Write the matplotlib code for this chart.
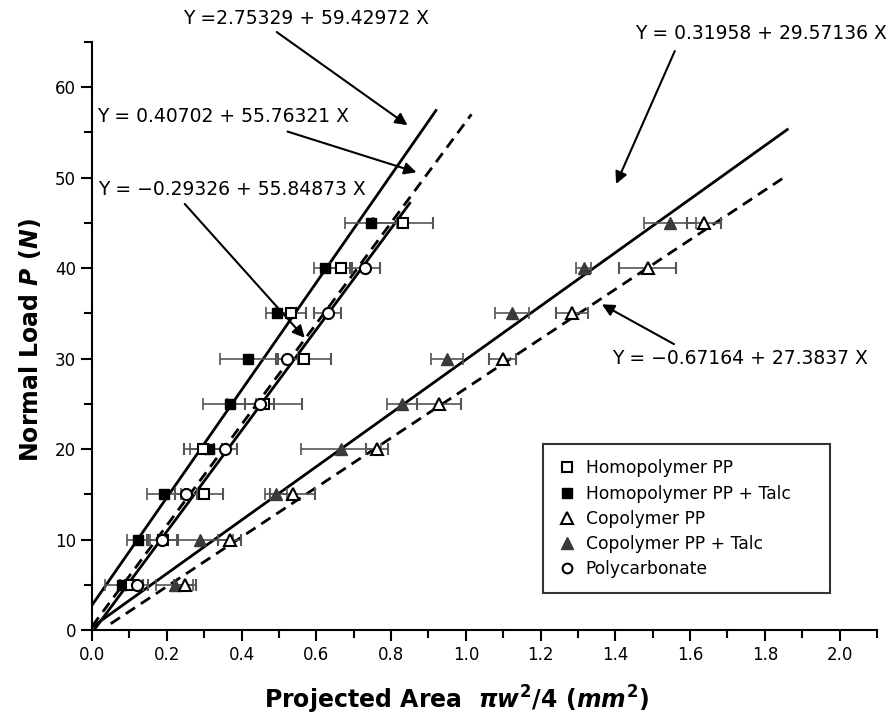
import numpy as np
import matplotlib
matplotlib.use("Agg")
import matplotlib.pyplot as plt
from matplotlib.lines import Line2D

# loads (N) for each series
loads = [5, 10, 15, 20, 25, 30, 35, 40, 45]
loads_pc = [5, 10, 15, 20, 25, 30, 35, 40]

# projected areas (mm^2)
homo_pp = [0.105, 0.19, 0.30, 0.297, 0.461, 0.568, 0.532, 0.666, 0.832]
homo_pp_err = [0.03, 0.04, 0.05, 0.05, 0.10, 0.07, 0.04, 0.03, 0.08]
homo_talc = [0.079, 0.124, 0.192, 0.312, 0.368, 0.418, 0.496, 0.623, 0.747]
homo_talc_err = [0.045, 0.03, 0.046, 0.05, 0.07, 0.077, 0.03, 0.03, 0.07]
polycarb = [0.119, 0.186, 0.252, 0.357, 0.448, 0.521, 0.63, 0.73]
polycarb_err = [0.03, 0.04, 0.03, 0.03, 0.04, 0.03, 0.035, 0.04]
co_pp = [0.248, 0.368, 0.537, 0.763, 0.928, 1.099, 1.284, 1.486, 1.637]
co_pp_err = [0.03, 0.03, 0.06, 0.03, 0.058, 0.036, 0.043, 0.075, 0.045]
co_talc = [0.221, 0.288, 0.492, 0.666, 0.83, 0.95, 1.124, 1.315, 1.547]
co_talc_err = [0.05, 0.09, 0.03, 0.107, 0.04, 0.042, 0.045, 0.02, 0.07]

# regression lines: (intercept, slope, x start, x end, style)
fits = [
    (2.75329, 59.42972, 0.0, 0.92, '-'),
    (0.40702, 55.76321, 0.0, 1.015, '--'),
    (-0.29326, 55.84873, 0.005, 0.85, '-'),
    (0.31958, 29.57136, 0.0, 1.86, '-'),
    (-0.67164, 27.3837, 0.05, 1.85, '--'),
]

# equation labels: text, text pos, arrow start, arrow tip
minus = '\u2212'
eq_text = ['Y =2.75329 + 59.42972 X', 'Y = 0.40702 + 55.76321 X',
           f'Y = {minus}0.29326 + 55.84873 X', 'Y = 0.31958 + 29.57136 X',
           f'Y = {minus}0.67164 + 27.3837 X']
eq_pos = [(0.243, 67.6), (0.013, 56.8), (0.016, 48.7), (1.453, 65.9), (1.39, 30.0)]
arrow_from = [(0.494, 66.1), (0.523, 55.1), (0.248, 47.1), (1.559, 64.0), (1.557, 31.6)]
arrow_to = [(0.844, 55.8), (0.868, 50.6), (0.569, 32.3), (1.402, 49.3), (1.364, 36.0)]

plt.rcParams['font.family'] = 'DejaVu Sans'
plt.rcParams['mathtext.fontset'] = 'custom'
plt.rcParams['mathtext.rm'] = 'DejaVu Sans:bold'
plt.rcParams['mathtext.it'] = 'DejaVu Sans:bold:italic'
plt.rcParams['mathtext.bf'] = 'DejaVu Sans:bold'

fig = plt.figure(figsize=(8.91, 7.24), dpi=100)
ax = fig.add_axes([0.1033, 0.1298, 0.881, 0.8122])

ebc = '#555555'
ekw = dict(ls='none', ecolor=ebc, elinewidth=1.2, capsize=4, capthick=1.2, zorder=3)

for b, m, x0, x1, st in fits:
    xs = np.array([x0, x1])
    ln, = ax.plot(xs, b + m * xs, st, color='black', lw=2, zorder=2)
    if st == '--':
        ln.set_dashes((4, 2.5))

ax.errorbar(homo_talc, loads, xerr=homo_talc_err, marker='s', ms=7.5, mfc='black', mec='black', **ekw)
ax.errorbar(homo_pp, loads, xerr=homo_pp_err, marker='s', ms=7.5, mfc='white', mec='black', mew=1.5, **ekw)
ax.errorbar(polycarb, loads_pc, xerr=polycarb_err, marker='o', ms=8, mfc='white', mec='black', mew=1.5, **ekw)
ax.errorbar(co_talc, loads, xerr=co_talc_err, marker='^', ms=9, mfc='#3a3a3a', mec='#3a3a3a', **ekw)
ax.errorbar(co_pp, loads, xerr=co_pp_err, marker='^', ms=9, mfc='white', mec='black', mew=1.5, **ekw)

ax.set_xlim(0, 2.1)
ax.set_ylim(0, 65)
ax.set_xticks(np.arange(0, 2.01, 0.2))
ax.set_xticks(np.arange(0, 2.11, 0.1), minor=True)
ax.set_yticks(np.arange(0, 61, 10))
ax.set_yticks(np.arange(0, 66, 5), minor=True)
ax.set_xticklabels([f'{v:.1f}' for v in np.arange(0, 2.01, 0.2)])
ax.spines['top'].set_visible(False)
ax.spines['right'].set_visible(False)
ax.spines['left'].set_linewidth(1.5)
ax.spines['bottom'].set_linewidth(1.5)
ax.tick_params(which='major', length=8, width=1.5, labelsize=12, direction='out')
ax.tick_params(which='minor', length=6, width=1.5, direction='out')

ax.set_xlabel(r'Projected Area  $\pi w^2$/4 ($mm^2$)', fontsize=17, fontweight='bold')
ax.xaxis.set_label_coords(0.464, -0.092)
ax.set_ylabel(r'Normal Load $P$ ($N$)', fontsize=17, fontweight='bold')
ax.yaxis.set_label_coords(-0.063, 0.493)

for txt, pos, a0, a1 in zip(eq_text, eq_pos, arrow_from, arrow_to):
    ax.text(pos[0], pos[1], txt, fontsize=13.5, ha='left', va='center', clip_on=False)
    ax.annotate('', xy=a1, xytext=a0, annotation_clip=False,
                arrowprops=dict(arrowstyle='-|>', color='black', lw=1.5,
                                mutation_scale=18, shrinkA=0, shrinkB=0))

handles = [
    Line2D([], [], ls='none', marker='s', mfc='white', mec='black', mew=1.5, ms=7),
    Line2D([], [], ls='none', marker='s', mfc='black', mec='black', ms=7),
    Line2D([], [], ls='none', marker='^', mfc='white', mec='black', mew=1.5, ms=8),
    Line2D([], [], ls='none', marker='^', mfc='#3a3a3a', mec='#3a3a3a', ms=8),
    Line2D([], [], ls='none', marker='o', mfc='white', mec='black', mew=1.5, ms=7),
]
labels = ['Homopolymer PP', 'Homopolymer PP + Talc', 'Copolymer PP',
          'Copolymer PP + Talc', 'Polycarbonate']
leg = ax.legend(handles, labels, loc='upper left',
                bbox_to_anchor=(543 / 891, 1 - 444 / 724, 287 / 891, 0.0),
                bbox_transform=fig.transFigure, mode='expand', fontsize=12.3,
                frameon=True, fancybox=False, edgecolor='black', borderpad=0.9,
                handletextpad=0.6, labelspacing=0.42, handlelength=1.0,
                borderaxespad=0)
leg.get_frame().set_linewidth(1.5)

fig.savefig('out.png', dpi=100)
